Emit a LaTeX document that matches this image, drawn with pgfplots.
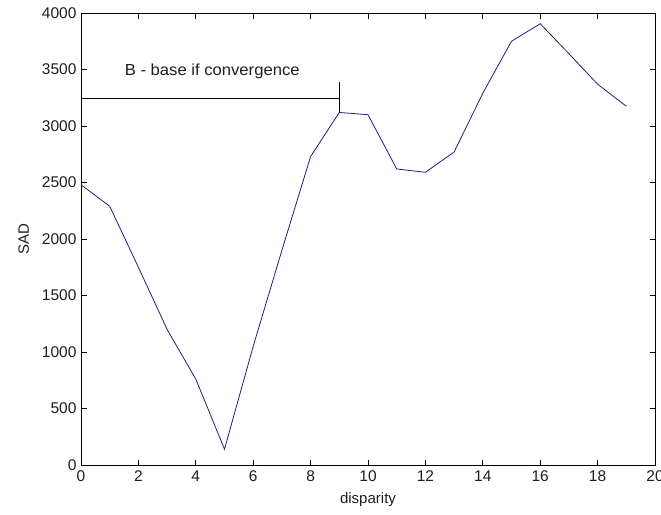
\documentclass[border=0pt]{standalone}
\usepackage{pgfplots}
\pgfplotsset{compat=1.18}
\usepackage{fontspec}
\setmainfont{Liberation Sans}
\definecolor{plotblue}{RGB}{30,30,130}
\definecolor{txt}{RGB}{30,30,30}
\begin{document}
\begin{tikzpicture}
\begin{axis}[
  at={(0,0)}, anchor=south west,
  scale only axis,
  width=574pt, height=452pt,
  xmin=0, xmax=20, ymin=0, ymax=4000,
  xtick={0,2,...,20}, ytick={0,500,...,4000},
  tick align=inside,
  major tick length=5.5pt,
  tick style={black, line width=0.8pt},
  axis line style={black, line width=0.8pt},
  every tick label/.append style={font=\fontsize{15.5}{17}\selectfont, text=txt},
  /pgf/number format/assume math mode=true,
  /pgf/number format/1000 sep={},
  xticklabel style={yshift=-2pt},
  yticklabel style={xshift=-1pt},
  xlabel={disparity}, ylabel={SAD},
  label style={font=\fontsize{15}{17}\selectfont, text=txt},
  xlabel style={yshift=-4pt},
  ylabel style={yshift=6pt},
  clip=false,
]
\addplot[plotblue, line width=0.8pt] coordinates {
(0,2480) (1,2290) (2,1750) (3,1200) (4,760) (5,140) (6,1050) (7,1900) (8,2730) (9,3120)
(10,3100) (11,2620) (12,2590) (13,2770) (14,3290) (15,3750) (16,3905) (17,3640) (18,3370) (19,3175)
};
\addplot[black, line width=0.8pt] coordinates {(0,3240) (9.03,3240)};
\addplot[black, line width=0.8pt] coordinates {(9,3120) (9,3390)};
\node[anchor=west, font=\fontsize{16}{18}\selectfont, text=txt, inner sep=0pt, xscale=1.04] at (axis cs:1.52,3480) {B - base if convergence};
\end{axis}
\pgfresetboundingbox
\path[use as bounding box] (-81pt,-49pt) rectangle (580pt,465pt);
\end{tikzpicture}
\end{document}
